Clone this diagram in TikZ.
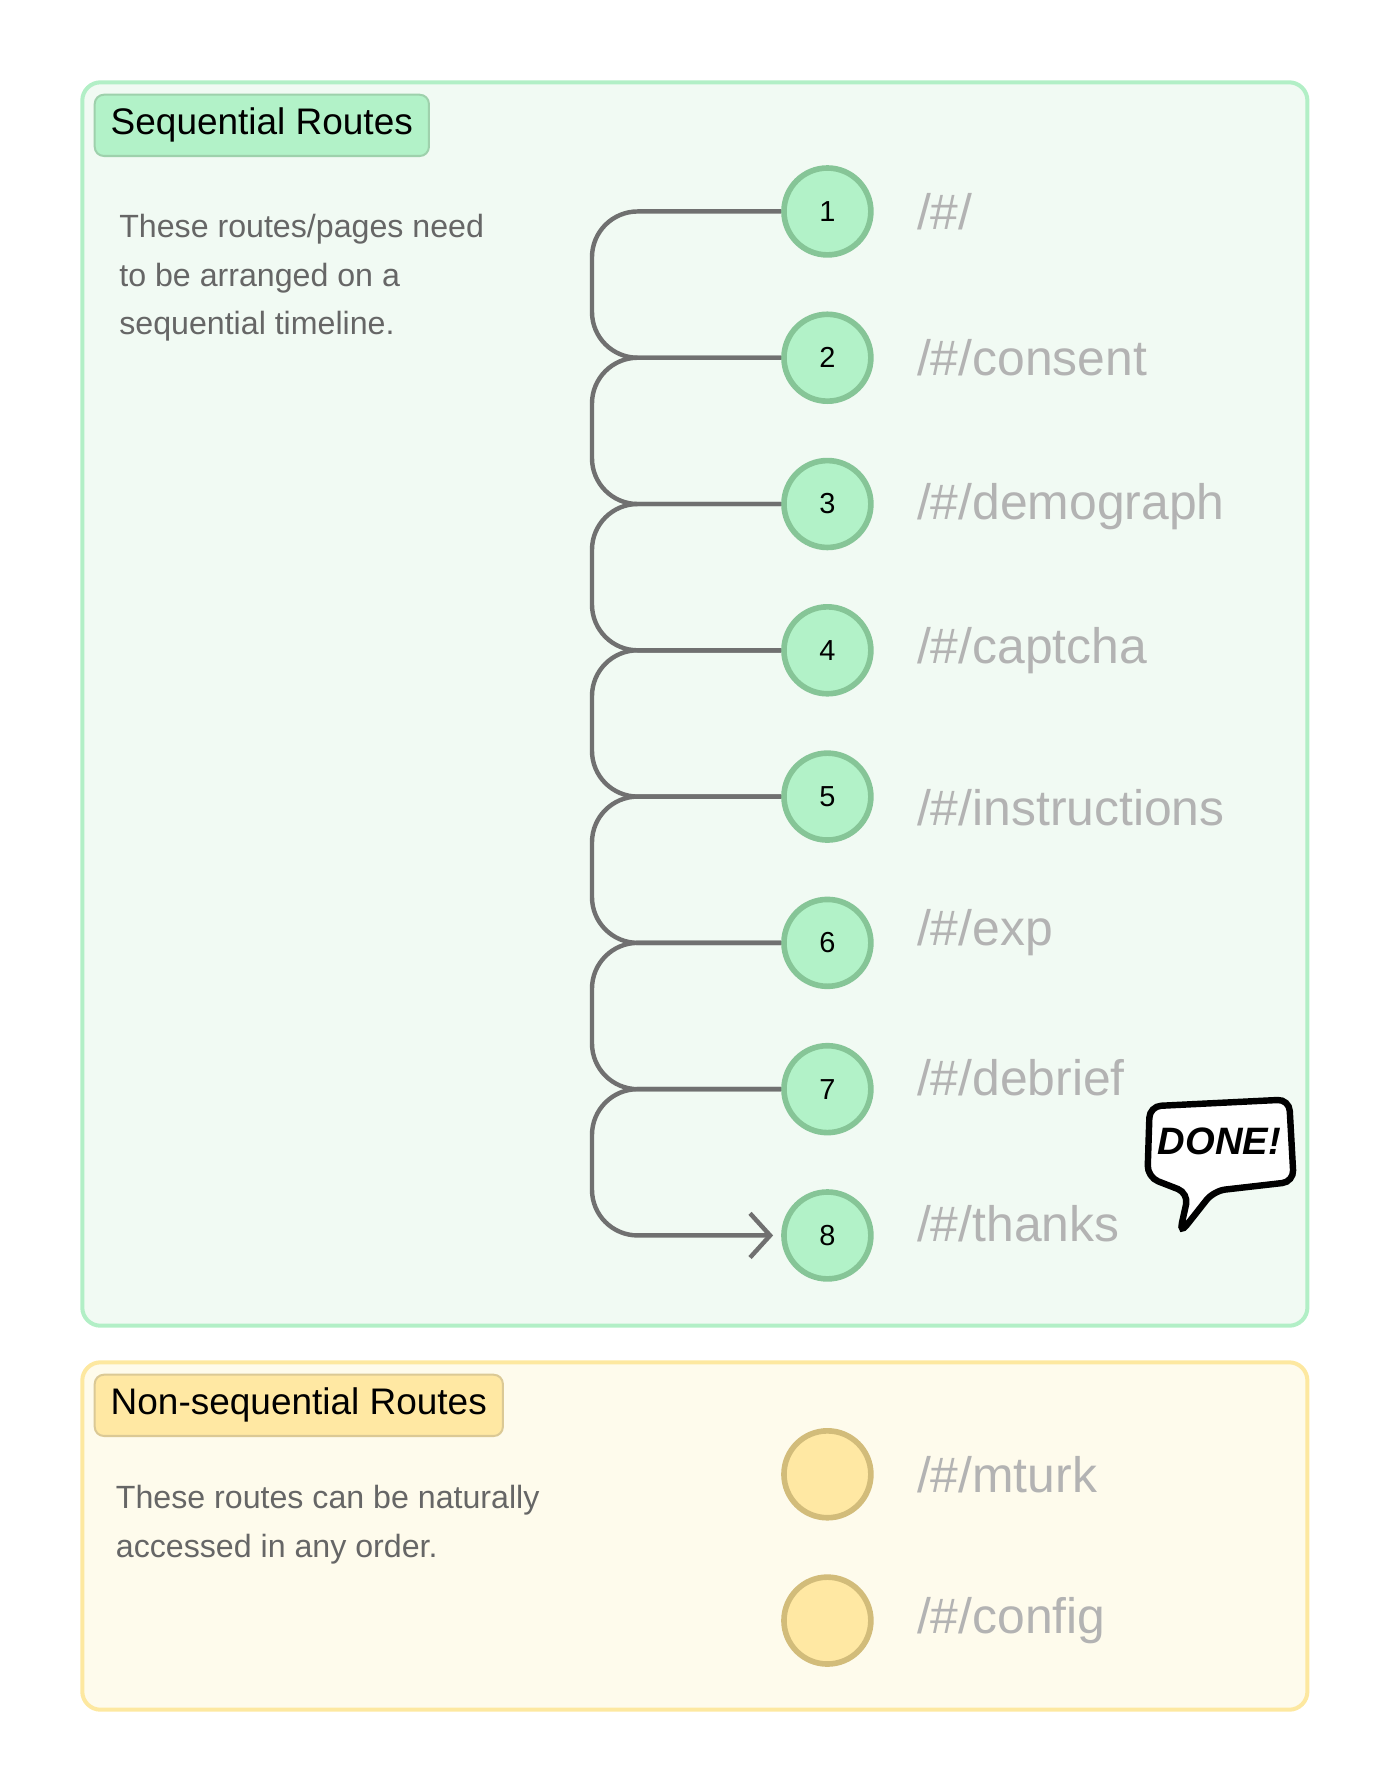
\documentclass[tikz,border=0pt]{standalone}
\usepackage{fontspec}
\setmainfont{Liberation Sans}
\usetikzlibrary{positioning,calc,arrows.meta}
\definecolor{greenfill}{HTML}{F1FAF3}
\definecolor{greenline}{HTML}{B2EFC6}
\definecolor{greentag}{HTML}{B2F2C8}
\definecolor{greendark}{HTML}{86C597}
\definecolor{yellowfill}{HTML}{FEFBEC}
\definecolor{yellowline}{HTML}{FDE8A0}
\definecolor{yellowtag}{HTML}{FFE8A3}
\definecolor{yellowdark}{HTML}{D2BC7A}
\definecolor{routegray}{HTML}{B3B3B3}
\definecolor{textgray}{HTML}{666666}
\definecolor{linkgray}{HTML}{707070}
\tikzset{
    panel/.style={rounded corners=0.16cm, line width=1pt},
    tag/.style={rounded corners=0.08cm, line width=0.5pt, anchor=north west,
        minimum height=0.46cm, inner xsep=0.14cm, font=\fontsize{9.2pt}{10pt}\selectfont},
    note/.style={anchor=west, text=textgray, align=left,
        font=\fontsize{8pt}{12pt}\selectfont},
    step node/.style={circle, minimum size=0.76cm, inner sep=0pt, line width=1.4pt,
        draw=greendark, fill=greentag, font=\fontsize{7.2pt}{8pt}\selectfont},
    free node/.style={circle, minimum size=0.76cm, inner sep=0pt, line width=1.4pt,
        draw=yellowdark, fill=yellowtag},
    route/.style={anchor=west, text=routegray, font=\fontsize{12.4pt}{14pt}\selectfont},
    link/.style={draw=linkgray, line width=1.1pt, rounded corners=0.4cm},
}
\begin{document}
\begin{tikzpicture}[x=0.01cm, y=-0.01cm, >=stealth]
\useasboundingbox (0,0) rectangle (1216,1568);

% panels
\draw[panel, draw=greenline, fill=greenfill] (72,72) rectangle (1144,1160);
\draw[panel, draw=yellowline, fill=yellowfill] (72,1192) rectangle (1144,1496);
\node[tag, draw=greendark!80, fill=greentag] (seqtag) at (82,82) {Sequential Routes};
\node[tag, draw=yellowdark!80, fill=yellowtag] (nontag) at (82,1202) {Non-sequential Routes};

\node[note] (seqnote) at (92,243) {These routes/pages need\\to be arranged on a\\sequential timeline.};
\node[note] (nonnote) at (89,1334) {These routes can be naturally\\accessed in any order.};

% sequential steps
\foreach \l/\dy [count=\i] in {{/\#/}/0, {/\#/consent}/0, {/\#/demograph}/2, {/\#/captcha}/0,
    {/\#/instructions}/10, {/\#/exp}/-9, {/\#/debrief}/-10, {/\#/thanks}/-10}
{
  \node[step node] (step-\i) at (724,57+\i*128) {\i};
  \node[route] (route-\i) at (790,57+\i*128+\dy) {\l};
}
\coordinate (spine) at (518,185);

\foreach \i [evaluate=\i as \j using int(\i+1)] in {1,...,6}
  \draw[link] (step-\i.west) -- (spine |- step-\i.west) -- (spine |- step-\j.west) -- (step-\j.west);
\draw[link, -{Straight Barb[length=5pt,width=11pt,line width=1.1pt]}, shorten >=2pt]
  (step-7.west) -- (spine |- step-7.west) -- (spine |- step-8.west) -- (step-8.west);

% free routes
\foreach \l [count=\i] in {{/\#/mturk}, {/\#/config}}
{
  \node[free node] (free-\i) at (724,1162+\i*128) {};
  \node[route] (froute-\i) at (790,1162+\i*128) {\l};
}

% speech bubble
\draw[line width=1.6pt, fill=white, rounded corners=0.1cm]
  (1006,968) -- (1128,962) -- (1132,1034) -- (1062,1042) -- (1032,1080)
  -- (1040,1044) -- (1004,1030) -- cycle;
\node[font=\fontsize{9.5pt}{10pt}\selectfont\bfseries\itshape] (done) at (1067,999) {DONE!};
\end{tikzpicture}
\end{document}
